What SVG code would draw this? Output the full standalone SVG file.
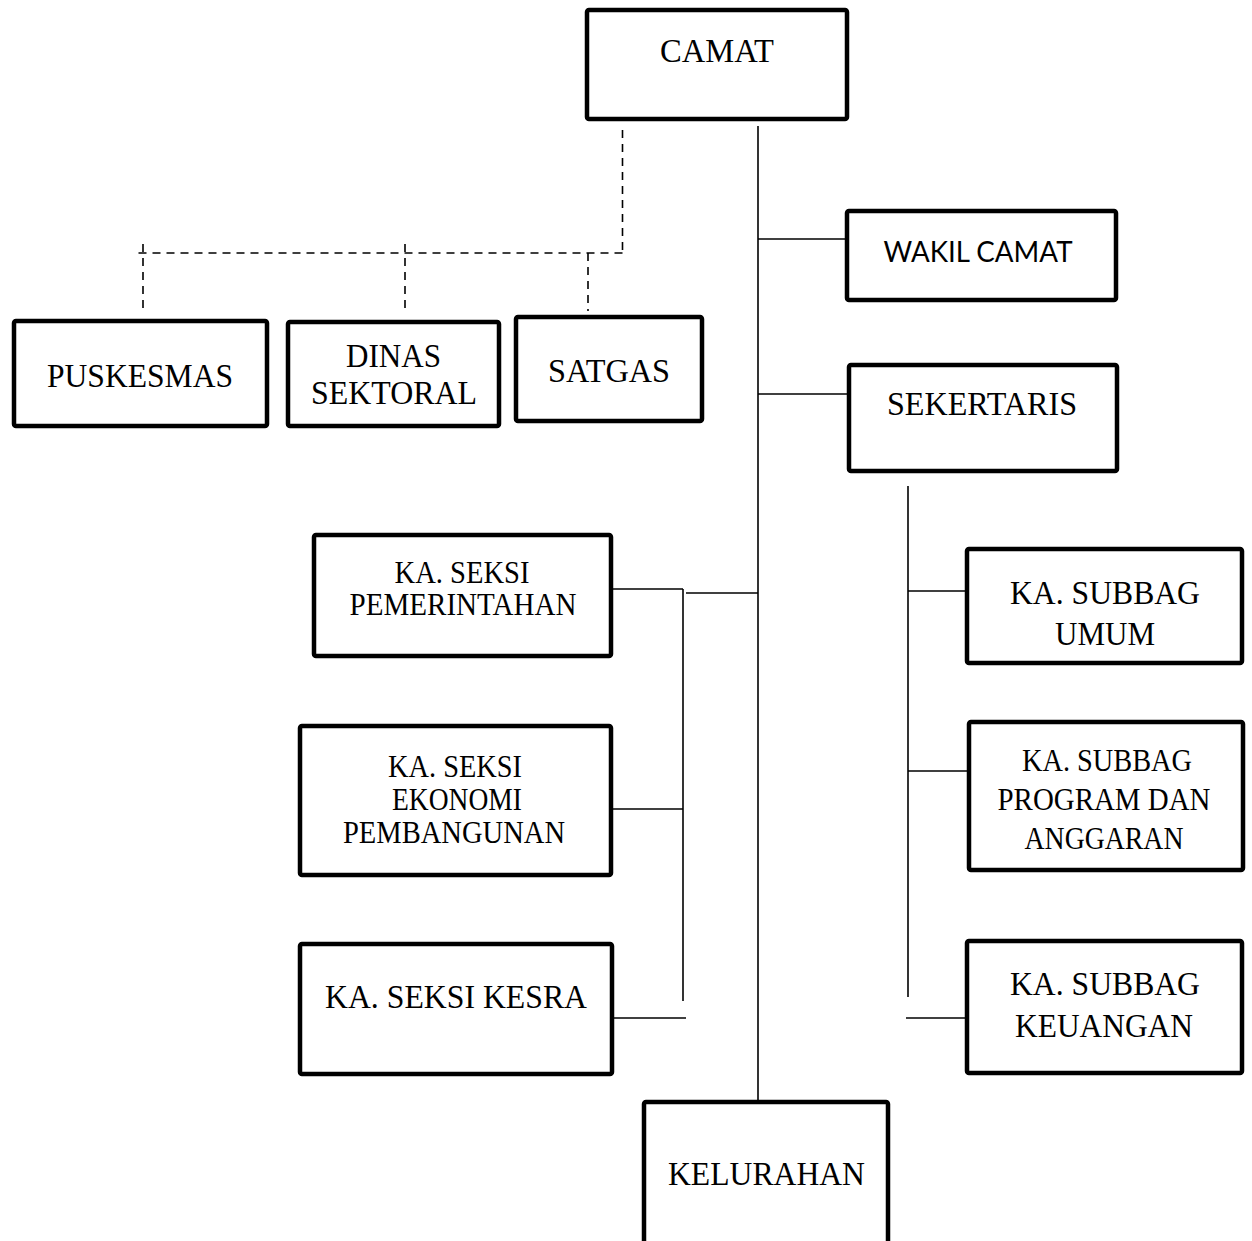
<svg xmlns="http://www.w3.org/2000/svg" width="1252" height="1241" viewBox="0 0 1252 1241">
<style>
.box{fill:#fff;stroke:#000;stroke-width:4.5;stroke-linejoin:round}
.t{font-family:"Liberation Serif","Times New Roman",serif;font-size:33px;fill:#000;text-anchor:middle}
.s{font-size:31px}
.sans{font-family:Lato,"Open Sans","Liberation Sans",sans-serif;font-size:28px;fill:#000;text-anchor:middle}
.ln{stroke:#000;stroke-width:1.6;fill:none}
.dash{stroke:#000;stroke-width:1.6;fill:none;stroke-dasharray:8 6}
</style>
<rect width="1252" height="1241" fill="#fff"/>
<g id="connectors">
<line class="ln" x1="758" y1="126" x2="758" y2="1101"/>
<line class="ln" x1="758" y1="239" x2="847" y2="239"/>
<line class="ln" x1="758" y1="394" x2="849" y2="394"/>
<line class="ln" x1="686" y1="593" x2="758" y2="593"/>
<line class="ln" x1="613" y1="589" x2="683" y2="589"/>
<line class="ln" x1="683" y1="589" x2="683" y2="1001"/>
<line class="ln" x1="613" y1="809" x2="683" y2="809"/>
<line class="ln" x1="614" y1="1018" x2="686" y2="1018"/>
<line class="ln" x1="908" y1="486" x2="908" y2="997"/>
<line class="ln" x1="908" y1="591" x2="967" y2="591"/>
<line class="ln" x1="908" y1="771" x2="969" y2="771"/>
<line class="ln" x1="906" y1="1018" x2="967" y2="1018"/>
<line class="dash" x1="622.5" y1="130" x2="622.5" y2="253"/>
<line class="dash" x1="622.5" y1="253" x2="138" y2="253"/>
<line class="dash" x1="143" y1="244" x2="143" y2="311"/>
<line class="dash" x1="405" y1="244" x2="405" y2="311"/>
<line class="dash" x1="588" y1="253" x2="588" y2="311"/>
</g>
<g id="camat"><rect class="box" x="587" y="10" width="260" height="109" rx="2"/><text class="t" x="717" y="62" textLength="114" lengthAdjust="spacingAndGlyphs">CAMAT</text></g>
<g id="puskesmas"><rect class="box" x="14" y="321" width="253" height="105" rx="2"/><text class="t" x="140" y="387" textLength="186" lengthAdjust="spacingAndGlyphs">PUSKESMAS</text></g>
<g id="dinas"><rect class="box" x="288" y="322" width="211" height="104" rx="2"/><text class="t" x="393.5" y="367" textLength="95" lengthAdjust="spacingAndGlyphs">DINAS</text><text class="t" x="394" y="404" textLength="166" lengthAdjust="spacingAndGlyphs">SEKTORAL</text></g>
<g id="satgas"><rect class="box" x="516" y="317" width="186" height="104" rx="2"/><text class="t" x="609" y="382" textLength="122" lengthAdjust="spacingAndGlyphs">SATGAS</text></g>
<g id="wakil"><rect class="box" x="847" y="211" width="269" height="89" rx="2"/><text class="sans" x="978" y="262" textLength="189" lengthAdjust="spacingAndGlyphs">WAKIL CAMAT</text></g>
<g id="sekertaris"><rect class="box" x="849" y="365" width="268" height="106" rx="2"/><text class="t" x="982" y="415" textLength="190" lengthAdjust="spacingAndGlyphs">SEKERTARIS</text></g>
<g id="pemerintahan"><rect class="box" x="314" y="535" width="297" height="121" rx="2"/><text class="t s" x="462" y="583" textLength="135" lengthAdjust="spacingAndGlyphs">KA. SEKSI</text><text class="t s" x="463" y="615" textLength="227" lengthAdjust="spacingAndGlyphs">PEMERINTAHAN</text></g>
<g id="ekonomi"><rect class="box" x="300" y="726" width="311" height="149" rx="2"/><text class="t s" x="455" y="777" textLength="134" lengthAdjust="spacingAndGlyphs">KA. SEKSI</text><text class="t s" x="457" y="810" textLength="130" lengthAdjust="spacingAndGlyphs">EKONOMI</text><text class="t s" x="454" y="843" textLength="222" lengthAdjust="spacingAndGlyphs">PEMBANGUNAN</text></g>
<g id="kesra"><rect class="box" x="300" y="944" width="312" height="130" rx="2"/><text class="t" x="456" y="1008" textLength="262" lengthAdjust="spacingAndGlyphs">KA. SEKSI KESRA</text></g>
<g id="umum"><rect class="box" x="967" y="549" width="275" height="114" rx="2"/><text class="t" x="1105" y="604" textLength="190" lengthAdjust="spacingAndGlyphs">KA. SUBBAG</text><text class="t" x="1105" y="645" textLength="100" lengthAdjust="spacingAndGlyphs">UMUM</text></g>
<g id="program"><rect class="box" x="969" y="722" width="274" height="148" rx="2"/><text class="t s" x="1107" y="771" textLength="170" lengthAdjust="spacingAndGlyphs">KA. SUBBAG</text><text class="t s" x="1104" y="810" textLength="213" lengthAdjust="spacingAndGlyphs">PROGRAM DAN</text><text class="t s" x="1104" y="849" textLength="159" lengthAdjust="spacingAndGlyphs">ANGGARAN</text></g>
<g id="keuangan"><rect class="box" x="967" y="941" width="275" height="132" rx="2"/><text class="t" x="1105" y="995" textLength="190" lengthAdjust="spacingAndGlyphs">KA. SUBBAG</text><text class="t" x="1104" y="1037" textLength="178" lengthAdjust="spacingAndGlyphs">KEUANGAN</text></g>
<g id="kelurahan"><rect class="box" x="644" y="1102" width="244" height="160" rx="2"/><text class="t" x="766.5" y="1185" textLength="197" lengthAdjust="spacingAndGlyphs">KELURAHAN</text></g>
</svg>
